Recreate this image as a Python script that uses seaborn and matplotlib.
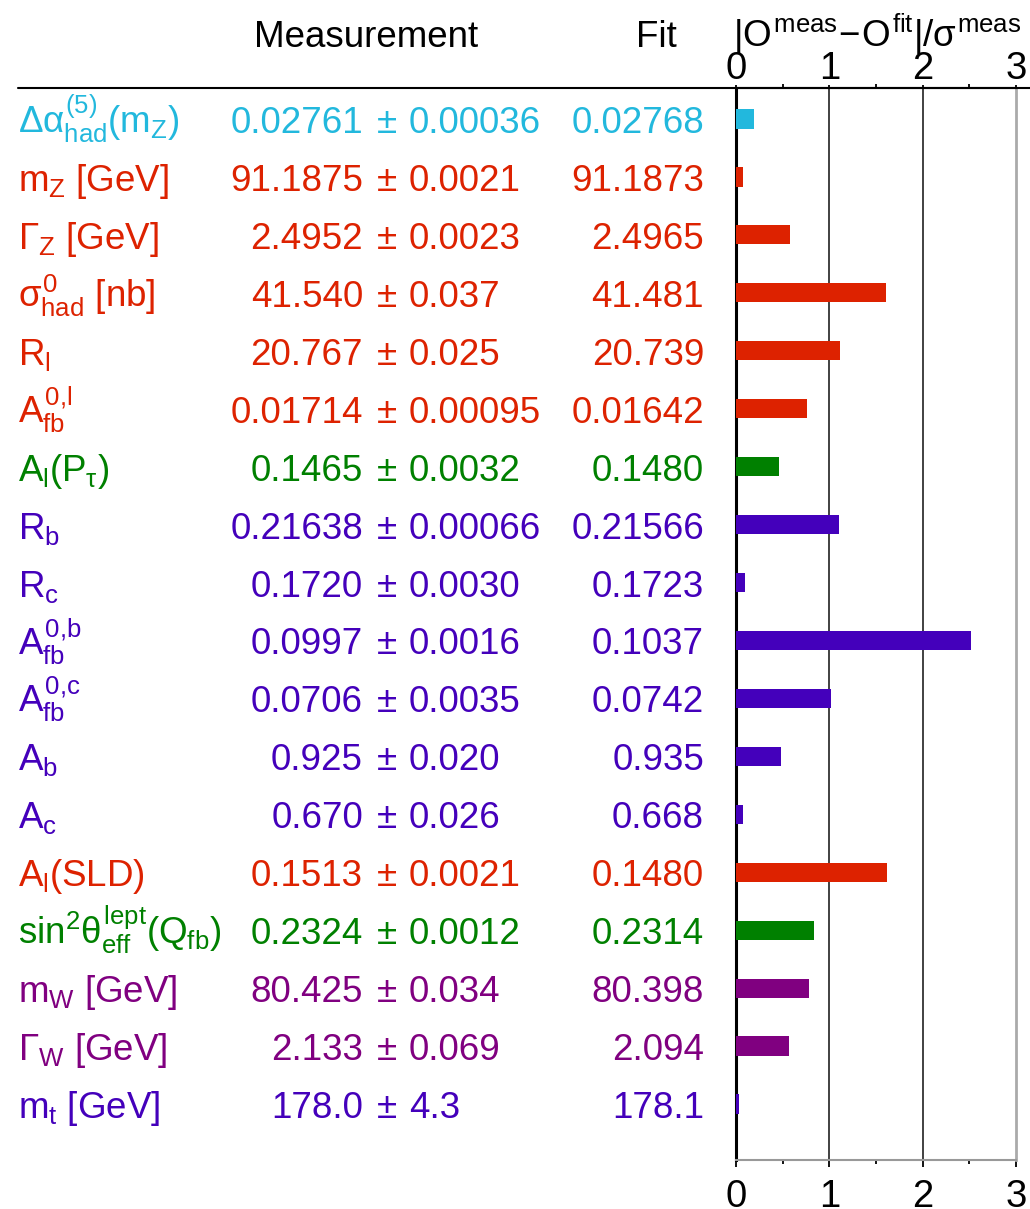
import matplotlib
matplotlib.use('Agg')
from matplotlib import pyplot as plt
import matplotlib.transforms as mtrans
from matplotlib.lines import Line2D
import matplotlib.ticker as mtick
import seaborn as sns
import pandas as pd

W, H = 1030, 1209

CYAN = '#22b8dd'
RED = '#dd2200'
GREEN = '#008000'
BLUE = '#4400bb'
PURPLE = '#800080'

keys = ['dalpha', 'mz', 'gz', 'shad', 'rl', 'afbl', 'alpt', 'rb', 'rc',
        'afbb', 'afbc', 'ab', 'ac', 'alsld', 'sin2', 'mw', 'gw', 'mt']
labels = [r'$\Delta\alpha^{(5)}_{\rm had}(m_{\rm Z})$',
          r'$m_{\rm Z}$ [GeV]',
          r'$\Gamma_{\rm Z}$ [GeV]',
          r'$\sigma^0_{\rm had}$ [nb]',
          r'$R_{\rm l}$',
          r'$A^{0{,}\rm l}_{\rm fb}$',
          r'$A_{\rm l}(P_\tau)$',
          r'$R_{\rm b}$',
          r'$R_{\rm c}$',
          r'$A^{0{,}\rm b}_{\rm fb}$',
          r'$A^{0{,}\rm c}_{\rm fb}$',
          r'$A_{\rm b}$',
          r'$A_{\rm c}$',
          r'$A_{\rm l}$(SLD)',
          r'$\sin^2\!\theta^{\rm lept}_{\rm eff}(Q_{\rm fb})$',
          r'$m_{\rm W}$ [GeV]',
          r'$\Gamma_{\rm W}$ [GeV]',
          r'$m_{\rm t}$ [GeV]']
meas = ['0.02761', '91.1875', '2.4952', '41.540', '20.767', '0.01714', '0.1465',
        '0.21638', '0.1720', '0.0997', '0.0706', '0.925', '0.670', '0.1513',
        '0.2324', '80.425', '2.133', '178.0']
errs = ['0.00036', '0.0021', '0.0023', '0.037', '0.025', '0.00095', '0.0032',
        '0.00066', '0.0030', '0.0016', '0.0035', '0.020', '0.026', '0.0021',
        '0.0012', '0.034', '0.069', '4.3']
fits = ['0.02768', '91.1873', '2.4965', '41.481', '20.739', '0.01642', '0.1480',
        '0.21566', '0.1723', '0.1037', '0.0742', '0.935', '0.668', '0.1480',
        '0.2314', '80.398', '2.094', '178.1']
pulls = [0.19, 0.08, 0.58, 1.61, 1.11, 0.76, 0.46, 1.10, 0.10, 2.52, 1.02,
         0.48, 0.07, 1.62, 0.84, 0.78, 0.57, 0.03]
colors = [CYAN, RED, RED, RED, RED, RED, GREEN, BLUE, BLUE, BLUE, BLUE, BLUE,
          BLUE, RED, GREEN, PURPLE, PURPLE, BLUE]

sns.set_style('white')
plt.rcParams['font.family'] = ['Liberation Sans', 'DejaVu Sans']
plt.rcParams['text.color'] = 'black'
plt.rcParams['mathtext.fontset'] = 'custom'
plt.rcParams['mathtext.rm'] = 'Liberation Sans'
plt.rcParams['mathtext.it'] = 'Liberation Sans'
plt.rcParams['mathtext.sf'] = 'Liberation Sans'
plt.rcParams['mathtext.bf'] = 'Liberation Sans:bold'

FS = 26.5

fig = plt.figure(figsize=(W / 100, H / 100), dpi=100)
ax = fig.add_axes([736 / W, 1 - 1160 / H, (1016 - 736) / W, (1160 - 88) / H])

df = pd.DataFrame({'key': keys, 'pull': pulls})
sns.barplot(data=df, x='pull', y='key', hue='key', palette=colors, orient='h',
            width=0.33, legend=False, linewidth=0, saturation=1, ax=ax)

row = 57.94
ax.set_ylim(17 + 56 / row, -31 / row)
ax.set_xlim(0, 3)
ax.set_yticks([])
ax.set_ylabel('')
ax.set_xlabel('')

for v in [1, 2]:
    ax.axvline(v, color='#333333', lw=1.3, zorder=0)

for side in ax.spines:
    ax.spines[side].set_visible(True)
ax.spines['left'].set_color('black')
ax.spines['left'].set_linewidth(2.2)
ax.spines['left'].set_zorder(0.5)
ax.spines['right'].set_color('#aaaaaa')
ax.spines['right'].set_linewidth(2)
ax.spines['bottom'].set_color('#999999')
ax.spines['bottom'].set_linewidth(1.5)
ax.spines['top'].set_color('black')
ax.spines['top'].set_linewidth(1.5)

ax.xaxis.set_major_locator(mtick.FixedLocator([0, 1, 2, 3]))
ax.xaxis.set_minor_locator(mtick.FixedLocator([0.5, 1.5, 2.5]))
ax.tick_params(axis='x', which='both', direction='out', bottom=True, top=False,
               labelsize=FS + 1, colors='black', pad=9)
ax.tick_params(axis='x', which='major', length=5, width=1.3)
ax.tick_params(axis='x', which='minor', length=3, width=1.3)

top = ax.secondary_xaxis('top')
top.xaxis.set_major_locator(mtick.FixedLocator([0, 1, 2, 3]))
top.xaxis.set_minor_locator(mtick.FixedLocator([0.5, 1.5, 2.5]))
top.tick_params(axis='x', which='both', direction='out', labelsize=FS + 1,
                colors='black', pad=-1)
top.tick_params(axis='x', which='major', length=2, width=1.3)
top.tick_params(axis='x', which='minor', length=3, width=1.3)
top.spines['top'].set_visible(False)

# horizontal rule under the header
fig.add_artist(Line2D([18 / W, 1.0], [1 - 88 / H, 1 - 88 / H], color='black', lw=1.5,
                      transform=fig.transFigure))

tr = mtrans.blended_transform_factory(fig.transFigure, ax.transData)
off = 14 / row
for i in range(len(keys)):
    y = i + off
    c = colors[i]
    ax.text(18 / W, y, labels[i], transform=tr, color=c, fontsize=FS, va='baseline', ha='left')
    ax.text(363 / W, y, meas[i], transform=tr, color=c, fontsize=FS, va='baseline', ha='right')
    ax.text(387 / W, y, '\u00b1', transform=tr, color=c, fontsize=FS, va='baseline', ha='center')
    ax.text(409 / W, y, errs[i], transform=tr, color=c, fontsize=FS, va='baseline', ha='left')
    ax.text(704 / W, y, fits[i], transform=tr, color=c, fontsize=FS, va='baseline', ha='right')

hy = 1 - 47 / H
fig.text(366 / W, hy, 'Measurement', fontsize=FS, ha='center', va='baseline', color='black')
fig.text(656 / W, hy, 'Fit', fontsize=FS, ha='center', va='baseline', color='black')
fig.text(877 / W, hy, r'$|O^{\rm meas}\!-\!O^{\rm fit}|/\sigma^{\rm meas}$',
         fontsize=FS, ha='center', va='baseline', color='black')

fig.savefig('out.png', dpi=100)
